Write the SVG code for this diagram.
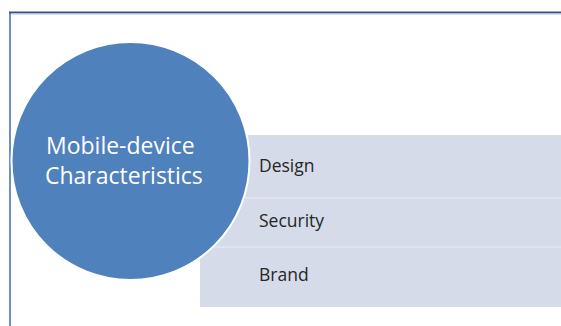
<svg xmlns="http://www.w3.org/2000/svg" width="561" height="326" viewBox="0 0 561 326">
<style>
.item{font-family:"Open Sans","Liberation Sans",sans-serif;font-size:17.5px;fill:#262626}
.hub{font-family:"Open Sans","Liberation Sans",sans-serif;font-size:23px;fill:#ffffff}
</style>
<rect width="561" height="326" fill="#ffffff"/>
<g id="frame">
<line x1="10" y1="13" x2="10" y2="326" stroke="#6d8fc2" stroke-width="2"/>
<line x1="9" y1="12.5" x2="561" y2="12.5" stroke="#2f5597" stroke-width="2"/>
<line x1="11" y1="14" x2="561" y2="14" stroke="#c8c8c8" stroke-width="1"/>
</g>
<g id="list">
<rect x="200" y="135" width="361" height="172" fill="#d5dbe8"/>
<line x1="200" y1="198" x2="561" y2="198" stroke="#e3e7f0" stroke-width="1.5"/>
<line x1="200" y1="247" x2="561" y2="247" stroke="#e3e7f0" stroke-width="1.5"/>
</g>
<g id="design"><text class="item" x="259" y="172">Design</text></g>
<g id="security"><text class="item" x="259" y="227">Security</text></g>
<g id="brand"><text class="item" x="259" y="281">Brand</text></g>
<g id="hub">
<circle cx="130.5" cy="161" r="119" fill="#4f81bd" stroke="#ffffff" stroke-width="2"/>
<text class="hub" x="46" y="154">Mobile-device</text>
<text class="hub" x="45" y="184">Characteristics</text>
</g>
<g id="connectors"></g>
</svg>
